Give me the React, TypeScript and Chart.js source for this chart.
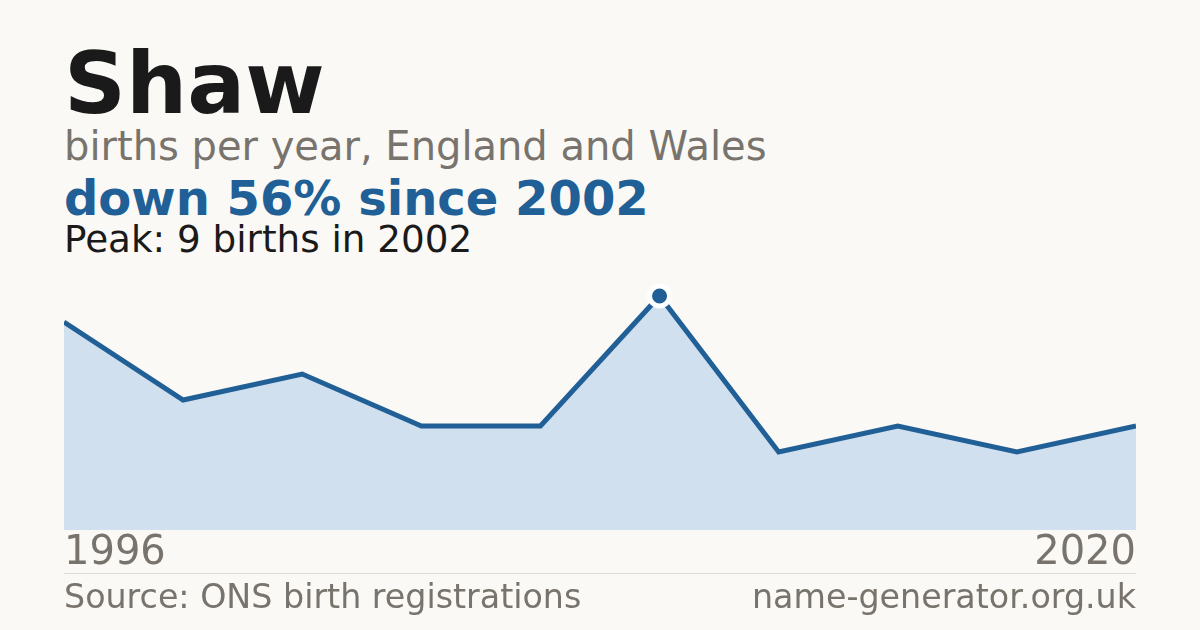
import Chart from 'chart.js/auto';
import { useRef, useEffect } from 'react';
import React from 'react';

const years = ['1996', '1997', '1998', '1999', '2001', '2002', '2005', '2010', '2015', '2020'];
const births = [8, 5, 6, 4, 4, 9, 3, 4, 3, 4];

const BLUE = '#215f97';
const GREY = '#78736c';
const FONT = '"DejaVu Sans", sans-serif';

function BirthsChart() {
  const chartRef = useRef<HTMLCanvasElement | null>(null);
  const chartInstance = useRef<Chart<'line'> | null>(null);

  useEffect(() => {
    if (!chartRef.current) return;
    const ctx = chartRef.current.getContext('2d');
    if (!ctx) return;
    const peak = births.indexOf(Math.max(...births));

    chartInstance.current = new Chart(ctx, {
      type: 'line',
      data: {
        labels: years,
        datasets: [{
          data: births,
          borderColor: BLUE,
          borderWidth: 5,
          backgroundColor: '#d0e0ef',
          fill: 'origin',
          tension: 0,
          pointRadius: (c) => (c.dataIndex === peak ? 10 : 0),
          pointBorderWidth: 5,
          pointBackgroundColor: BLUE,
          pointBorderColor: '#ffffff',
          pointHoverRadius: 0,
        }]
      },
      options: {
        animation: false,
        responsive: false,
        maintainAspectRatio: false,
        layout: { padding: 0 },
        plugins: { legend: { display: false }, tooltip: { enabled: false } },
        scales: {
          y: { display: false, min: 0, max: 10 },
          x: {
            offset: false,
            border: { display: false },
            grid: { display: false, drawTicks: false },
            ticks: {
              autoSkip: false,
              maxRotation: 0,
              align: 'inner',
              padding: 0,
              color: GREY,
              font: { family: FONT, size: 40 },
              callback: (_v, i) => (i === 0 || i === years.length - 1 ? years[i] : ''),
            }
          }
        }
      }
    });

    return () => {
      if (chartInstance.current) {
        chartInstance.current.destroy();
      }
    };
  }, []);

  return <canvas ref={chartRef} width={1072} height={308} style={{ position: 'absolute', left: 64, top: 270, width: 1072, height: 308 }} />;
}

const text = (size: number, top: number, color: string, bold = false): React.CSSProperties => ({
  position: 'absolute', left: 64, top, fontSize: size, lineHeight: 1, color,
  fontWeight: bold ? 'bold' : 'normal', whiteSpace: 'nowrap', margin: 0,
});

export default function App() {
  return (
    <div style={{ position: 'fixed', left: 0, top: 0, width: 1200, height: 630, background: '#faf9f5', fontFamily: FONT, overflow: 'hidden' }}>
      <div style={text(86, 40, '#1a1a1a', true)}>Shaw</div>
      <div style={text(40, 125.5, GREY)}>births per year, England and Wales</div>
      <div style={text(48, 174, BLUE, true)}>down 56% since 2002</div>
      <div style={text(37.3, 221.2, '#1a1a1a')}>Peak: 9 births in 2002</div>
      <BirthsChart />
      <div style={{ position: 'absolute', left: 64, top: 573, width: 1072, height: 1, background: '#dedbd4' }} />
      <div style={text(33.3, 580, GREY)}>Source: ONS birth registrations</div>
      <div style={{ ...text(33.3, 580, GREY), left: 'auto', right: 64 }}>name-generator.org.uk</div>
    </div>
  );
}
